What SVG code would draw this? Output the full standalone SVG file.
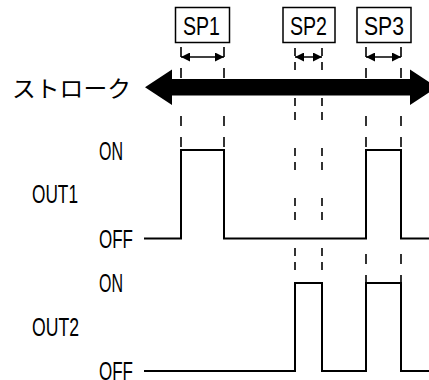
<svg xmlns="http://www.w3.org/2000/svg" width="429" height="380" viewBox="0 0 429 380">
<defs>
<style>
.lbl{font-family:"Liberation Sans","Noto Sans",sans-serif;font-size:25px;fill:#000}
.jp{font-family:"Noto Sans CJK JP","Noto Sans",sans-serif;font-size:23px;fill:#000}
.box{fill:#fff;stroke:#000;stroke-width:1.5}
.dA{stroke:#000;stroke-width:1.6;fill:none;stroke-dasharray:10 11 10 38}
.dB{stroke:#000;stroke-width:1.6;fill:none;stroke-dasharray:8 6 8 28}
.dim{stroke:#000;stroke-width:1.5;fill:none;marker-start:url(#ah);marker-end:url(#ah)}
.wave{stroke:#000;stroke-width:2;fill:none}
</style>
<marker id="ah" viewBox="0 0 10 10" refX="10" refY="5" markerWidth="9" markerHeight="9" markerUnits="userSpaceOnUse" orient="auto-start-reverse">
<path d="M0,0 L10,5 L0,10 z" fill="#000"/>
</marker>
</defs>
<rect width="429" height="380" fill="#fff"/>
<g id="connectors">
<line class="dA" x1="181" y1="47" x2="181" y2="150"/>
<line class="dA" x1="224" y1="47" x2="224" y2="150"/>
<line class="dB" x1="295" y1="48" x2="295" y2="283"/>
<line class="dB" x1="322" y1="48" x2="322" y2="283"/>
<line class="dA" x1="366" y1="47" x2="366" y2="283"/>
<line class="dA" x1="401" y1="47" x2="401" y2="283"/>
<line class="dim" x1="181" y1="57" x2="224" y2="57"/>
<line class="dim" x1="295" y1="57" x2="322" y2="57"/>
<line class="dim" x1="366" y1="57" x2="401" y2="57"/>
</g>
<g id="sp1"><rect class="box" x="175.5" y="7.5" width="54" height="35"/><text class="lbl" x="183" y="35" textLength="37" lengthAdjust="spacingAndGlyphs">SP1</text></g>
<g id="sp2"><rect class="box" x="283" y="7.5" width="52" height="35"/><text class="lbl" x="290" y="35" textLength="37" lengthAdjust="spacingAndGlyphs">SP2</text></g>
<g id="sp3"><rect class="box" x="357" y="7.5" width="54" height="35"/><text class="lbl" x="364" y="35" textLength="40" lengthAdjust="spacingAndGlyphs">SP3</text></g>
<g id="stroke">
<text class="jp" x="12" y="97" textLength="119" lengthAdjust="spacingAndGlyphs">ストローク</text>
<polygon points="145,87.25 172,69.5 172,79 410,79 410,69.5 437,87.25 410,105 410,95.5 172,95.5 172,105" fill="#000"/>
</g>
<g id="out1">
<text class="lbl" x="99" y="159.5" textLength="24" lengthAdjust="spacingAndGlyphs">ON</text>
<text class="lbl" x="32" y="203" textLength="46" lengthAdjust="spacingAndGlyphs">OUT1</text>
<text class="lbl" x="99" y="248" textLength="34" lengthAdjust="spacingAndGlyphs">OFF</text>
<polyline class="wave" points="144,238.5 181,238.5 181,150 224,150 224,238.5 366,238.5 366,150 401,150 401,238.5 429,238.5"/>
</g>
<g id="out2">
<text class="lbl" x="99" y="292" textLength="24" lengthAdjust="spacingAndGlyphs">ON</text>
<text class="lbl" x="32" y="336" textLength="47" lengthAdjust="spacingAndGlyphs">OUT2</text>
<text class="lbl" x="99" y="379.5" textLength="34" lengthAdjust="spacingAndGlyphs">OFF</text>
<polyline class="wave" points="144,371 295,371 295,283 322,283 322,371 366,371 366,283 401,283 401,371 429,371"/>
</g>
</svg>
